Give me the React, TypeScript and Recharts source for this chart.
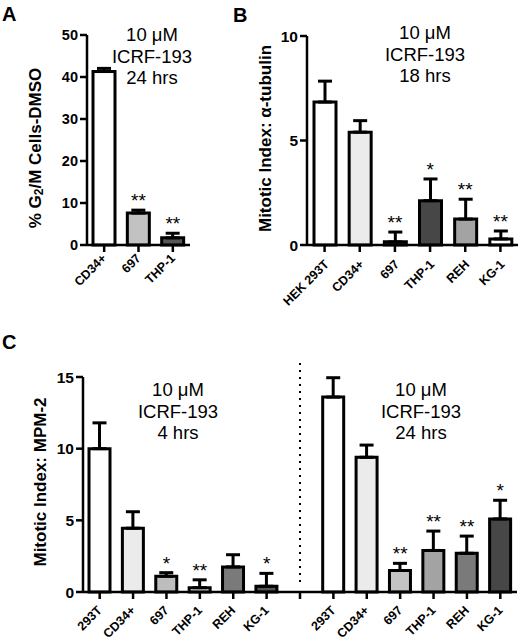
import React from 'react';
import { ComposedChart, Bar, Cell, ErrorBar, Line, LabelList, XAxis, YAxis, ReferenceLine } from 'recharts';

const FONT = '"Liberation Sans", Arial, Helvetica, sans-serif';

// ---------- Panel A data ----------
const aCategories = ['CD34+', '697', 'THP-1'];
const aValues = [41.3, 7.6, 1.7];
const aErrors = [0.75, 0.7, 1.1];
const aStars = ['', '**', '**'];
const aTicks = [0, 10, 20, 30, 40, 50];

// ---------- Panel B data ----------
const bCategories = ['HEK 293T', 'CD34+', '697', 'THP-1', 'REH', 'KG-1'];
const bValues = [6.84, 5.4, 0.15, 2.12, 1.24, 0.29];
const bErrors = [1.0, 0.55, 0.47, 1.04, 0.95, 0.38];
const bStars = ['', '', '**', '*', '**', '**'];
const bTicks = [0, 5, 10];

// ---------- Panel C data ----------
const cCategories = ['293T', 'CD34+', '697', 'THP-1', 'REH', 'KG-1', ' ', '293T', 'CD34+', '697', 'THP-1', 'REH', 'KG-1'];
const cValues: (number | null)[] = [10.0, 4.45, 1.1, 0.3, 1.75, 0.4, null, 13.6, 9.4, 1.5, 2.9, 2.7, 5.1];
const cErrors: (number | null)[] = [1.8, 1.15, 0.25, 0.55, 0.85, 0.9, null, 1.35, 0.85, 0.5, 1.35, 1.2, 1.3];
const cStars = ['', '', '*', '**', '', '*', '', '', '', '**', '**', '**', '*'];
const cTicks = [0, 5, 10, 15];

// ---------- styles ----------
const aColors = ['#ffffff', '#c2c2c2', '#565656'];
const bColors = ['#ffffff', '#ebebeb', '#5a5a5a', '#474747', '#a3a3a3', '#ffffff'];
const cColors = ['#ffffff', '#ebebeb', '#bdbdbd', '#f2f2f2', '#7a7a7a', '#555555', '#ffffff', '#ffffff', '#ebebeb', '#c4c4c4', '#a3a3a3', '#7a7a7a', '#474747'];

function buildRows(cats: string[], vals: (number | null)[], errs: (number | null)[], stars: string[]) {
  return cats.map((c, i) => ({
    key: String(i),
    value: vals[i],
    err: errs[i] == null ? null : [0, errs[i] as number],
    top: vals[i] == null ? null : (vals[i] as number) + (errs[i] as number),
    stars: stars[i],
  }));
}

const aRows = buildRows(aCategories, aValues, aErrors, aStars);
const bRows = buildRows(bCategories, bValues, bErrors, bStars);
const cRows = buildRows(cCategories, cValues, cErrors, cStars);

const makeXTick = (cats: string[], dx: number, dy: number, fs: number) => (props: any) => {
  const { x, y, payload } = props;
  const label = cats[Number(payload.value)] ?? '';
  return (
    <g transform={`translate(${x},${y})`}>
      <text x={dx} y={dy} textAnchor="end" transform={`rotate(-45 ${dx} ${dy})`} fontFamily={FONT} fontWeight="bold" fontSize={fs} fill="#000">
        {label}
      </text>
    </g>
  );
};

const makeYLabel = (cx: number, shift: number, parts: React.ReactNode) => (p: any) => {
  const vb = p.viewBox || { x: 0, y: 0, width: 0, height: 0 };
  const x = cx;
  const y = vb.y + vb.height / 2 + shift;
  return (
    <text x={x} y={y} transform={`rotate(-90 ${x} ${y})`} textAnchor="middle" dominantBaseline="central" fontFamily={FONT} fontWeight="bold" fontSize={17} fill="#000">
      {parts}
    </text>
  );
};

const axisStroke = { stroke: '#000', strokeWidth: 2.5 };
const yTickStyle = { fontFamily: FONT, fontWeight: 'bold', fontSize: 15, fill: '#000' };

function Panel(props: {
  rows: any[];
  colors: string[];
  cats: string[];
  width: number;
  height: number;
  margin: any;
  yWidth: number;
  xHeight: number;
  domain: [number, number];
  ticks: number[];
  barSize: number;
  tickDx: number;
  tickDy: number;
  tickFs: number;
  yTickFs: number;
  yLabel: (p: any) => React.ReactNode;
  children?: React.ReactNode;
}) {
  const { rows, colors, cats } = props;
  return (
    <ComposedChart width={props.width} height={props.height} data={rows} margin={props.margin}>
      <XAxis
        dataKey="key"
        type="category"
        interval={0}
        height={props.xHeight}
        tick={makeXTick(cats, props.tickDx, props.tickDy, props.tickFs)}
        tickSize={7}
        tickLine={axisStroke}
        axisLine={axisStroke}
      />
      <YAxis
        type="number"
        domain={props.domain}
        ticks={props.ticks}
        width={props.yWidth}
        interval={0}
        tickSize={7}
        tickMargin={2}
        tick={{ ...yTickStyle, fontSize: props.yTickFs }}
        tickLine={axisStroke}
        axisLine={axisStroke}
        label={props.yLabel}
      />
      {props.children}
      <Bar dataKey="value" barSize={props.barSize} stroke="#000" strokeWidth={3} isAnimationActive={false}>
        {rows.map((r, i) => (
          <Cell key={r.key} fill={colors[i]} />
        ))}
        <ErrorBar dataKey="err" direction="y" width={7} stroke="#000" strokeWidth={3} />
      </Bar>
      <Line dataKey="top" stroke="none" dot={false} activeDot={false} isAnimationActive={false} legendType="none">
        <LabelList dataKey="stars" position="top" offset={3} fontSize={19} fill="#000" fontFamily={FONT} />
      </Line>
    </ComposedChart>
  );
}

const annotStyle: React.CSSProperties = {
  position: 'absolute',
  width: 120,
  textAlign: 'center',
  fontFamily: FONT,
  fontSize: 18.5,
  lineHeight: '21.5px',
  color: '#000',
};

const letterStyle: React.CSSProperties = {
  position: 'absolute',
  fontFamily: FONT,
  fontWeight: 'bold',
  fontSize: 20,
  lineHeight: 1,
  color: '#000',
};

function Annot({ left, top, hrs }: { left: number; top: number; hrs: string }) {
  return (
    <div style={{ ...annotStyle, left, top }}>
      <div>10 μM</div>
      <div>ICRF-193</div>
      <div>{hrs}</div>
    </div>
  );
}

export default function App() {
  const gapKey = String(cCategories.indexOf(' '));
  return (
    <div style={{ position: 'absolute', left: 0, top: 0, width: 520, height: 641, background: '#fff', overflow: 'hidden' }}>
      <div style={{ position: 'absolute', left: 0, top: 0 }}>
        <Panel
          rows={aRows}
          colors={aColors}
          cats={aCategories}
          width={225}
          height={315}
          margin={{ top: 35, right: 35, left: 0, bottom: 20 }}
          yWidth={87}
          xHeight={50}
          domain={[0, 50]}
          ticks={aTicks}
          barSize={22}
          tickDx={3}
          tickDy={5}
          tickFs={12.5}
          yTickFs={14.5}
          yLabel={makeYLabel(35, 8, [
            <tspan key="a">% G</tspan>,
            <tspan key="b" fontSize={12} dy={4}>2</tspan>,
            <tspan key="c" dy={-4}>/M Cells-DMSO</tspan>,
          ])}
        />
      </div>
      <div style={{ position: 'absolute', left: 225, top: 0 }}>
        <Panel
          rows={bRows}
          colors={bColors}
          cats={bCategories}
          width={295}
          height={318}
          margin={{ top: 36, right: 2, left: 25, bottom: 23 }}
          yWidth={57}
          xHeight={50}
          domain={[0, 10]}
          ticks={bTicks}
          barSize={22}
          tickDx={5}
          tickDy={11}
          tickFs={12.5}
          yTickFs={15.5}
          yLabel={makeYLabel(40, -2, 'Mitotic Index: α-tubulin')}
        />
      </div>
      <div style={{ position: 'absolute', left: 0, top: 320 }}>
        <Panel
          rows={cRows}
          colors={cColors}
          cats={cCategories}
          width={520}
          height={321}
          margin={{ top: 57, right: 3, left: 0, bottom: 4 }}
          yWidth={83}
          xHeight={45}
          domain={[0, 15]}
          ticks={cTicks}
          barSize={21}
          tickDx={3}
          tickDy={10}
          tickFs={12.5}
          yTickFs={15.5}
          yLabel={makeYLabel(40, -2.5, 'Mitotic Index: MPM-2')}
        >
          <ReferenceLine
            segment={[{ x: gapKey, y: 0.7 }, { x: gapKey, y: 16 }]}
            stroke="#000"
            strokeWidth={2}
            strokeDasharray="2 5"
            ifOverflow="visible"
          />
        </Panel>
      </div>
      <div style={{ ...letterStyle, left: 2, top: 4 }}>A</div>
      <div style={{ ...letterStyle, left: 233, top: 5 }}>B</div>
      <div style={{ ...letterStyle, left: 2, top: 332 }}>C</div>
      <Annot left={92} top={24} hrs="24 hrs" />
      <Annot left={365} top={22} hrs="18 hrs" />
      <Annot left={118} top={379} hrs="4 hrs" />
      <Annot left={361} top={379} hrs="24 hrs" />
    </div>
  );
}
